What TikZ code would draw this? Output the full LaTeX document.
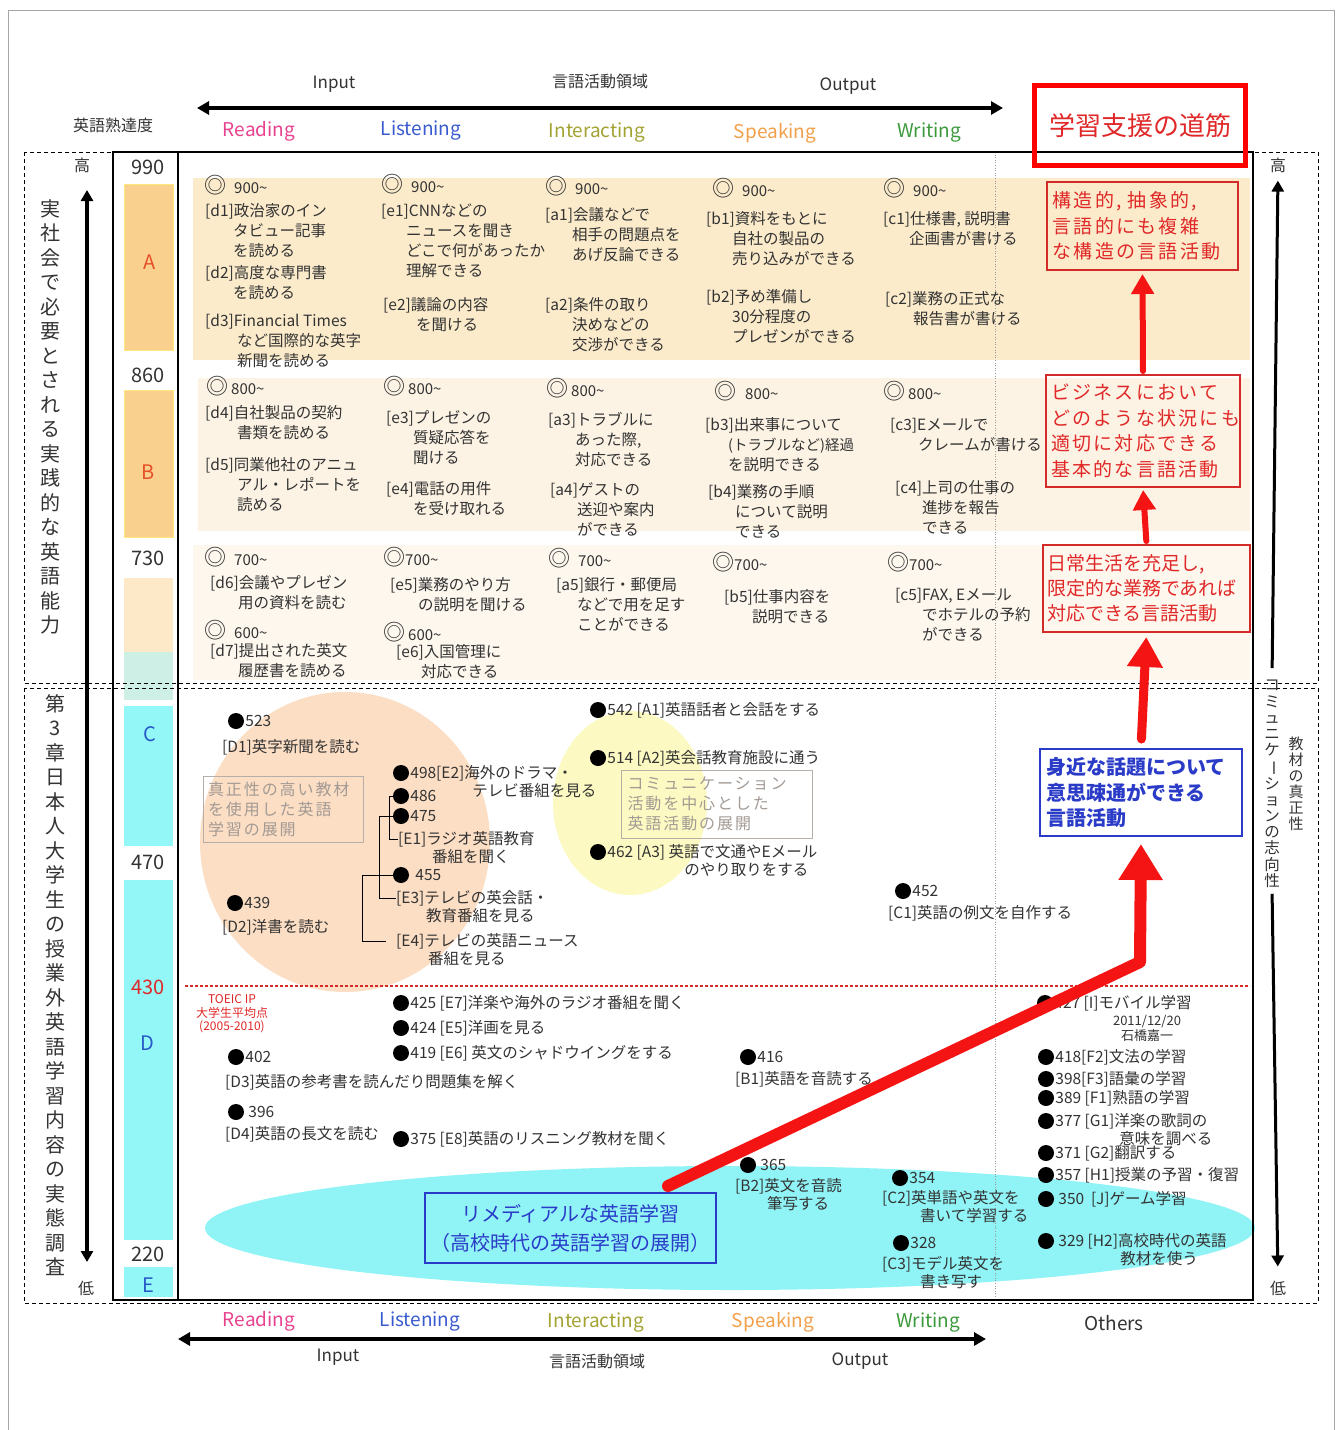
\documentclass[tikz,border=0pt]{standalone}
\usepackage{fontspec}
\setmainfont{Noto Sans CJK JP}
\newfontfamily\lsfont[LetterSpace=12]{Noto Sans CJK JP}
\usetikzlibrary{arrows.meta}
\newcommand\mytilde{\textasciitilde}
\newcommand\myind[1]{\hspace*{#1pt}}
\newcommand\dcirc{{\fontsize{22}{20}\selectfont ◎}}
\definecolor{cRead}{HTML}{E8428E}
\definecolor{cList}{HTML}{3A5BD0}
\definecolor{cInt}{HTML}{A3A332}
\definecolor{cSpk}{HTML}{F2A04A}
\definecolor{cWri}{HTML}{3C9A3C}
\definecolor{bandA}{HTML}{FBEBCB}
\definecolor{bandB}{HTML}{FCF3E4}
\definecolor{bandC}{HTML}{FDF7EE}
\definecolor{barA}{HTML}{F9D08E}
\definecolor{barL}{HTML}{FDE8C8}
\definecolor{barT}{HTML}{CDEFE6}
\definecolor{cyanbar}{HTML}{93F7F8}
\definecolor{peach}{HTML}{FCDEC4}
\definecolor{lyellow}{HTML}{FCFAC2}
\definecolor{cyanell}{HTML}{90F3F5}
\definecolor{rboxred}{HTML}{D42A2A}
\definecolor{rtext}{HTML}{E02828}
\definecolor{bigred}{HTML}{F51414}
\definecolor{bblue}{HTML}{2A3BC8}
\definecolor{grayt}{HTML}{A39A94}
\definecolor{txtc}{HTML}{333333}
\tikzset{
  txt/.style={anchor=north west, inner sep=0pt, align=left, font=\fontsize{15.5}{20}\selectfont, text=txtc},
  lvl/.style={anchor=west, inner sep=0pt, font=\fontsize{15}{18}\selectfont, text=txtc},
  dotn/.style={circle, fill=black, minimum size=16pt, inner sep=0pt},
  lab/.style={anchor=west, inner sep=0pt, font=\fontsize{15.5}{19}\selectfont, text=txtc},
  labm/.style={anchor=north west, inner sep=0pt, align=left, font=\fontsize{15.5}{18}\selectfont, text=txtc},
  skill/.style={inner sep=0pt, font=\fontsize{19}{22}\selectfont},
  axlab/.style={inner sep=0pt, font=\fontsize{17}{20}\selectfont, text=txtc},
  score/.style={inner sep=0pt, font=\fontsize{20}{22}\selectfont, text=txtc},
  vtext/.style={anchor=north, inner sep=0pt, align=center, font=\fontsize{20}{24.5}\selectfont, text=txtc},
  redbox/.style={draw=rboxred, line width=2pt, inner sep=0pt, align=left, text=rtext, font=\lsfont\fontsize{19}{25.5}\selectfont},
  bluebox/.style={draw=bblue, line width=2pt, inner sep=0pt, text=bblue, font=\bfseries\fontsize{20}{25.5}\selectfont},
  graybox/.style={draw=grayt!80, line width=0.8pt, inner sep=0pt, align=left, text=grayt, font=\lsfont\fontsize{16}{20}\selectfont},
  redup/.style={draw=bigred, line width=#1, line cap=round},
  dashbox/.style={draw=black, line width=0.9pt, dash pattern=on 4pt off 3pt},
  frame/.style={draw=black, line width=2pt},
  axarrow/.style={draw=black, line width=4pt, {Triangle[length=12pt,width=13pt]}-{Triangle[length=12pt,width=13pt]}}
}
\begin{document}
\begin{tikzpicture}[x=1pt,y=-1pt]
\useasboundingbox (0,0) rectangle (1338,1430);
\fill[white] (0,0) rectangle (1338,1430);
\draw[gray!70, line width=1pt] (8,10) rectangle (1334,1432);

% ---------- background bands ----------
\fill[bandA] (193,178) rectangle (1250,360);
\fill[bandB] (198,378) rectangle (1250,531);
\fill[bandC] (193,545) rectangle (1250,680);

% ---------- ellipses ----------
\fill[peach] (345,842) ellipse [x radius=145, y radius=150];
\fill[lyellow] (630,803) ellipse [x radius=77, y radius=92];
\fill[cyanell] (730,1228) ellipse [x radius=525, y radius=62];

% ---------- score bars ----------
\fill[barA, draw=yellow!70!orange!50, line width=0.8pt] (124,184) rectangle (173,350);
\fill[barA, draw=yellow!70!orange!50, line width=0.8pt] (124,390) rectangle (173,537);
\fill[barL] (124,578) rectangle (173,652);
\fill[barT] (124,652) rectangle (173,700);
\fill[cyanbar] (124,706) rectangle (173,846);
\fill[cyanbar] (124,880) rectangle (173,1240);
\fill[cyanbar] (124,1267) rectangle (173,1297);

% ---------- dashed boxes and frame ----------
\draw[dashbox] (24,152) rectangle (1318,683);
\draw[dashbox] (24,688) rectangle (1318,1303);
\draw[gray!80, line width=0.6pt, dotted] (995,152) -- (995,1300);
\draw[frame] (113,152) rectangle (1253,1300);
\draw[frame] (178,152) -- (178,1300);
\draw[rboxred, line width=1.2pt, dash pattern=on 3pt off 2pt] (185,986) -- (1250,986);

% ---------- score column ----------
\node[score] (s990) at (148,167) {990};
\node[score] (s860) at (148,375) {860};
\node[score] (s730) at (148,558) {730};
\node[score] (s470) at (148,862) {470};
\node[score, text=rtext] (s430) at (148,987) {430};
\node[score] (s220) at (148,1254) {220};
\node[score, text={rgb,255:red,230;green,80;blue,40}] (gA) at (150,262) {A};
\node[score, text={rgb,255:red,230;green,80;blue,40}] (gB) at (148,472) {B};
\node[score, text={rgb,255:red,40;green,90;blue,200}] (gC) at (150,734) {C};
\node[score, text={rgb,255:red,40;green,90;blue,200}] (gD) at (147,1043) {D};
\node[score, text={rgb,255:red,40;green,90;blue,200}] (gE) at (148,1285) {E};

% ---------- left side ----------
\node[axlab, font=\fontsize{16}{18}\selectfont] (prof) at (113,125) {英語熟達度};
\node[axlab, font=\fontsize{16}{18}\selectfont] (lhi) at (82,165) {高};
\node[axlab, font=\fontsize{16}{18}\selectfont] (llo) at (86,1288) {低};
\coordinate (la1) at (87,190);
\coordinate (la2) at (87,1262);
\draw[draw=black, line width=3.5pt, {Triangle[length=11pt,width=12pt]}-{Triangle[length=11pt,width=12pt]}] (la1) -- (la2);
\node[vtext] (vleft1) at (50,199) {実\\社\\会\\で\\必\\要\\と\\さ\\れ\\る\\実\\践\\的\\な\\英\\語\\能\\力};
\node[vtext] (vleft2) at (55,694) {第\\3\\章\\日\\本\\人\\大\\学\\生\\の\\授\\業\\外\\英\\語\\学\\習\\内\\容\\の\\実\\態\\調\\査};

% ---------- right side ----------
\node[axlab, font=\fontsize{16}{18}\selectfont] (rhi) at (1278,165) {高};
\node[axlab, font=\fontsize{16}{18}\selectfont] (rlo) at (1278,1288) {低};
\node[vtext, font=\fontsize{15.5}{16.2}\selectfont] (vr1) at (1272,680) {コ\\ミ\\ュ\\ニ\\ケ\\\rotatebox[origin=c]{-90}{ー}\\シ\\ョ\\ン\\の\\志\\向\\性};
\node[vtext, font=\fontsize{15}{16}\selectfont] (vr2) at (1296,737) {教\\材\\の\\真\\正\\性};
\draw[draw=black, line width=3pt, -{Triangle[length=11pt,width=12pt]}, shorten <=12pt, shorten >=8pt] (vr1.north) -- (rhi.south);
\draw[draw=black, line width=3pt, -{Triangle[length=11pt,width=12pt]}, shorten <=6pt, shorten >=14pt] (vr1.south) -- (rlo.north);

% ---------- top axis ----------
\node[axlab] (inT) at (334,84) {Input};
\node[axlab, font=\fontsize{16}{18}\selectfont] (domT) at (600,81) {言語活動領域};
\node[axlab] (outT) at (848,86) {Output};
\coordinate (ta1) at (197,108);
\coordinate (ta2) at (1003,108);
\draw[axarrow] (ta1) -- (ta2);
\node[skill, text=cRead] (rdT) at (259,131) {Reading};
\node[skill, text=cList] (lsT) at (421,131) {Listening};
\node[skill, text=cInt] (itT) at (597,133) {Interacting};
\node[skill, text=cSpk] (spT) at (775,133) {Speaking};
\node[skill, text=cWri] (wrT) at (929,133) {Writing};
\node[draw=red, line width=5pt, minimum width=211pt, minimum height=80pt, inner sep=0pt, text=rtext, font=\fontsize{26}{28}\selectfont] (path) at (1140,125.5) {学習支援の道筋};

% ---------- bottom axis ----------
\node[skill, text=cRead] (rdB) at (259,1321) {Reading};
\node[skill, text=cList] (lsB) at (420,1321) {Listening};
\node[skill, text=cInt] (itB) at (596,1322) {Interacting};
\node[skill, text=cSpk] (spB) at (773,1322) {Speaking};
\node[skill, text=cWri] (wrB) at (928,1322) {Writing};
\node[skill, text=txtc] (otB) at (1114,1323) {Others};
\coordinate (ba1) at (178,1339);
\coordinate (ba2) at (986,1339);
\draw[axarrow] (ba1) -- (ba2);
\node[axlab] (inB) at (338,1357) {Input};
\node[axlab, font=\fontsize{16}{18}\selectfont] (domB) at (597,1361) {言語活動領域};
\node[axlab] (outB) at (860,1361) {Output};

% ---------- band 1 (900~) ----------
\node[lvl] (r900) at (204,185) {\dcirc\hspace{8pt}900\mytilde};
\node[lvl] (l900) at (381,184) {\dcirc\hspace{8pt}900\mytilde};
\node[lvl] (i900) at (545,186) {\dcirc\hspace{8pt}900\mytilde};
\node[lvl] (s900) at (712,188) {\dcirc\hspace{8pt}900\mytilde};
\node[lvl] (w900) at (883,188) {\dcirc\hspace{8pt}900\mytilde};
\node[txt] (d1) at (205,203) {[d1]政治家のイン\\\myind{28}タビュー記事\\\myind{28}を読める};
\node[txt] (d2) at (205,265) {[d2]高度な専門書\\\myind{28}を読める};
\node[txt] (d3) at (205,314) {[d3]Financial Times\\\myind{32}など国際的な英字\\\myind{32}新聞を読める};
\node[txt] (e1) at (381,204) {[e1]CNNなどの\\\myind{25}ニュースを聞き\\\myind{25}どこで何があったか\\\myind{25}理解できる};
\node[txt] (e2) at (383,297) {[e2]議論の内容\\\myind{33}を聞ける};
\node[txt] (a1) at (545,207) {[a1]会議などで\\\myind{27}相手の問題点を\\\myind{27}あげ反論できる};
\node[txt] (a2) at (545,297) {[a2]条件の取り\\\myind{27}決めなどの\\\myind{27}交渉ができる};
\node[txt] (b1) at (706,211) {[b1]資料をもとに\\\myind{26}自社の製品の\\\myind{26}売り込みができる};
\node[txt] (b2) at (706,289) {[b2]予め準備し\\\myind{26}30分程度の\\\myind{26}プレゼンができる};
\node[txt] (c1) at (883,211) {[c1]仕様書, 説明書\\\myind{26}企画書が書ける};
\node[txt] (c2) at (885,291) {[c2]業務の正式な\\\myind{28}報告書が書ける};

% ---------- band 2 (800~) ----------
\node[lvl] (r800) at (206,386) {\dcirc\hspace{3pt}800\mytilde};
\node[lvl] (l800) at (383,386) {\dcirc\hspace{3pt}800\mytilde};
\node[lvl] (i800) at (546,388) {\dcirc\hspace{3pt}800\mytilde};
\node[lvl] (s800) at (714,391) {\dcirc\hspace{9pt}800\mytilde};
\node[lvl] (w800) at (883,391) {\dcirc\hspace{3pt}800\mytilde};
\node[txt] (d4) at (205,405) {[d4]自社製品の契約\\\myind{32}書類を読める};
\node[txt] (d5) at (205,457) {[d5]同業他社のアニュ\\\myind{32}アル・レポートを\\\myind{32}読める};
\node[txt] (e3) at (386,410) {[e3]プレゼンの\\\myind{27}質疑応答を\\\myind{27}聞ける};
\node[txt] (e4) at (386,481) {[e4]電話の用件\\\myind{27}を受け取れる};
\node[txt] (a3) at (548,412) {[a3]トラブルに\\\myind{27}あった際,\\\myind{27}対応できる};
\node[txt] (a4) at (550,482) {[a4]ゲストの\\\myind{27}送迎や案内\\\myind{27}ができる};
\node[txt] (b3) at (705,417) {[b3]出来事について\\\myind{23}{\fontsize{14.5}{19}\selectfont (トラブルなど)経過}\\\myind{23}を説明できる};
\node[txt] (b4) at (708,484) {[b4]業務の手順\\\myind{27}について説明\\\myind{27}できる};
\node[txt] (c3) at (890,418) {[c3]Eメールで\\\myind{28}クレームが書ける};
\node[txt] (c4) at (895,480) {[c4]上司の仕事の\\\myind{27}進捗を報告\\\myind{27}できる};

% ---------- band 3 (700~ / 600~) ----------
\node[lvl] (r700) at (204,557) {\dcirc\hspace{8pt}700\mytilde};
\node[lvl] (l700) at (383,557) {\dcirc 700\mytilde};
\node[lvl] (i700) at (548,558) {\dcirc\hspace{8pt}700\mytilde};
\node[lvl] (s700) at (712,562) {\dcirc 700\mytilde};
\node[lvl] (w700) at (887,562) {\dcirc 700\mytilde};
\node[txt] (d6) at (210,575) {[d6]会議やプレゼン\\\myind{28}用の資料を読む};
\node[lvl] (r600) at (204,630) {\dcirc\hspace{8pt}600\mytilde};
\node[txt] (d7) at (210,643) {[d7]提出された英文\\\myind{28}履歴書を読める};
\node[txt] (e5) at (390,577) {[e5]業務のやり方\\\myind{28}の説明を聞ける};
\node[lvl] (l600) at (383,632) {\dcirc\hspace{3pt}600\mytilde};
\node[txt] (e6) at (396,644) {[e6]入国管理に\\\myind{25}対応できる};
\node[txt] (a5) at (556,577) {[a5]銀行・郵便局\\\myind{21}などで用を足す\\\myind{21}ことができる};
\node[txt] (b5) at (724,589) {[b5]仕事内容を\\\myind{28}説明できる};
\node[txt] (c5) at (895,588) {[c5]FAX, Eメール\\\myind{27}でホテルの予約\\\myind{27}ができる};

% ---------- gray boxes ----------
\node[graybox, minimum width=160pt, minimum height=66pt, text width=150pt] (gb1) at (283,809) {真正性の高い教材\\を使用した英語\\学習の展開};
\node[graybox, minimum width=191pt, minimum height=68pt, text width=178pt] (gb2) at (716.5,804) {コミュニケーション\\活動を中心とした\\英語活動の展開};

% ---------- lower part: dots ----------
\node[dotn] (p523) at (236,721) {};
\node[lab] (l523) at ([xshift=1pt]p523.east) {523};
\node[txt] (D1) at (222,739) {[D1]英字新聞を読む};
\node[dotn] (p498) at (401,773) {};
\node[labm] (l498) at ([shift={(1pt,8pt)}]p498.east) {498[E2]海外のドラマ・\\\myind{62}テレビ番組を見る};
\node[dotn] (p486) at (401,796) {};
\node[lab] (l486) at ([xshift=1pt]p486.east) {486};
\node[dotn] (p475) at (401,816) {};
\node[lab] (l475) at ([xshift=1pt]p475.east) {475};
\node[labm] (E1) at (398,831) {[E1]ラジオ英語教育\\\myind{34}番組を聞く};
\node[dotn] (p455) at (401,875) {};
\node[lab] (l455) at ([xshift=6pt]p455.east) {455};
\node[labm] (E3) at (396,890) {[E3]テレビの英会話・\\\myind{30}教育番組を見る};
\node[labm] (E4) at (396,933) {[E4]テレビの英語ニュース\\\myind{32}番組を見る};
\draw[black, line width=1pt] (p486.west) -| ([shift={(-9pt,-8pt)}]E1.north west) -- ([yshift=-8pt]E1.north west);
\draw[black, line width=1pt] (p475.west) -| ([shift={(-17pt,-8pt)}]E3.north west) -- ([yshift=-8pt]E3.north west);
\draw[black, line width=1pt] (p455.west) -| ([shift={(-34pt,-8pt)}]E4.north west) -- ([shift={(-10pt,-8pt)}]E4.north west);
\node[dotn] (p439) at (235,903) {};
\node[lab] (l439) at ([xshift=1pt]p439.east) {439};
\node[txt] (D2) at (222,919) {[D2]洋書を読む};

\node[dotn] (p542) at (598,710) {};
\node[lab] (l542) at ([xshift=1pt]p542.east) {542 [A1]英語話者と会話をする};
\node[dotn] (p514) at (598,758) {};
\node[lab] (l514) at ([xshift=1pt]p514.east) {514 [A2]英会話教育施設に通う};
\node[dotn] (p462) at (598,852) {};
\node[labm] (l462) at ([shift={(1pt,8pt)}]p462.east) {462 [A3] 英語で文通やEメール\\\myind{77}のやり取りをする};
\node[dotn] (p452) at (903,891) {};
\node[lab] (l452) at ([xshift=1pt]p452.east) {452};
\node[txt] (C1) at (888,905) {[C1]英語の例文を自作する};

\node[inner sep=0pt, align=center, text=rtext, font=\fontsize{12}{13.5}\selectfont] (toeic) at (232,1014) {TOEIC IP\\大学生平均点\\(2005-2010)};
\node[dotn] (p425) at (401,1003) {};
\node[lab] (l425) at ([xshift=1pt]p425.east) {425 [E7]洋楽や海外のラジオ番組を聞く};
\node[dotn] (p424) at (401,1028) {};
\node[lab] (l424) at ([xshift=1pt]p424.east) {424 [E5]洋画を見る};
\node[dotn] (p419) at (401,1053) {};
\node[lab] (l419) at ([xshift=1pt]p419.east) {419 [E6] 英文のシャドウイングをする};
\node[dotn] (p402) at (236,1057) {};
\node[lab] (l402) at ([xshift=1pt]p402.east) {402};
\node[txt] (D3) at (225,1074) {[D3]英語の参考書を読んだり問題集を解く};
\node[dotn] (p396) at (236,1112) {};
\node[lab] (l396) at ([xshift=4pt]p396.east) {396};
\node[txt] (D4) at (225,1126) {[D4]英語の長文を読む};
\node[dotn] (p375) at (401,1139) {};
\node[lab] (l375) at ([xshift=1pt]p375.east) {375 [E8]英語のリスニング教材を聞く};
\node[dotn] (p416) at (748,1057) {};
\node[lab] (l416) at ([xshift=1pt]p416.east) {416};
\node[txt] (B1) at (735,1071) {[B1]英語を音読する};
\node[dotn] (p365) at (748,1165) {};
\node[lab] (l365) at ([xshift=4pt]p365.east) {365};
\node[labm] (B2) at (735,1178) {[B2]英文を音読\\\myind{32}筆写する};
\node[dotn] (p354) at (900,1178) {};
\node[lab] (l354) at ([xshift=1pt]p354.east) {354};
\node[labm] (C2) at (882,1190) {[C2]英単語や英文を\\\myind{38}書いて学習する};
\node[dotn] (p328) at (901,1243) {};
\node[lab] (l328) at ([xshift=1pt]p328.east) {328};
\node[labm] (C3) at (882,1256) {[C3]モデル英文を\\\myind{38}書き写す};

\node[dotn] (p427) at (1045,1003) {};
\node[lab] (l427) at ([xshift=1pt]p427.east) {427 [I]モバイル学習};
\node[inner sep=0pt, align=center, text=txtc, font=\fontsize{13}{15}\selectfont] (date) at (1147,1028) {2011/12/20\\石橋嘉一};
\node[dotn] (p418) at (1046,1057) {};
\node[lab] (l418) at ([xshift=1pt]p418.east) {418[F2]文法の学習};
\node[dotn] (p398) at (1046,1079) {};
\node[lab] (l398) at ([xshift=1pt]p398.east) {398[F3]語彙の学習};
\node[dotn] (p389) at (1046,1098) {};
\node[lab] (l389) at ([xshift=1pt]p389.east) {389 [F1]熟語の学習};
\node[dotn] (p377) at (1046,1121) {};
\node[labm] (l377) at ([shift={(1pt,8pt)}]p377.east) {377 [G1]洋楽の歌詞の\\\myind{64}意味を調べる};
\node[dotn] (p371) at (1046,1153) {};
\node[lab] (l371) at ([xshift=1pt]p371.east) {371 [G2]翻訳する};
\node[dotn] (p357) at (1046,1175) {};
\node[lab] (l357) at ([xshift=1pt]p357.east) {357 [H1]授業の予習・復習};
\node[dotn] (p350) at (1046,1199) {};
\node[lab] (l350) at ([xshift=4pt]p350.east) {350\ \ [J]ゲーム学習};
\node[dotn] (p329) at (1046,1241) {};
\node[labm] (l329) at ([shift={(4pt,8pt)}]p329.east) {329 [H2]高校時代の英語\\\myind{62}教材を使う};

% ---------- right boxes ----------
\node[redbox, minimum width=191pt, minimum height=88pt, text width=180pt] (rb1) at (1142.5,226) {構造的, 抽象的,\\言語的にも複雑\\な構造の言語活動};
\node[redbox, minimum width=194pt, minimum height=112pt, text width=184pt] (rb2) at (1143,431) {ビジネスにおいて\\どのような状況にも\\適切に対応できる\\基本的な言語活動};
\node[redbox, font=\fontsize{19}{25}\selectfont, minimum width=207pt, minimum height=87pt, text width=199pt] (rb3) at (1146.5,588.5) {日常生活を充足し,\\限定的な業務であれば\\対応できる言語活動};
\node[bluebox, minimum width=202pt, minimum height=87pt, text width=190pt, align=left] (bb) at (1141,792.5) {身近な話題について\\意思疎通ができる\\言語活動};
\node[bluebox, minimum width=291pt, minimum height=70pt, align=center, font=\fontsize{20}{29}\selectfont] (rem) at (570.5,1228) {リメディアルな英語学習\\（高校時代の英語学習の展開）};

% ---------- red arrows ----------
\draw[redup=6pt, -{Triangle[length=20pt,width=22pt]}, shorten <=3pt, shorten >=3pt] (rb2.north) -- (rb1.south);
\draw[redup=6pt, -{Triangle[length=20pt,width=22pt]}, shorten <=3pt, shorten >=2pt] (rb3.north) -- (rb2.south);
\draw[redup=9pt, -{Triangle[length=30pt,width=34pt]}, shorten <=9pt, shorten >=4pt] (bb.north) -- (rb3.south);
\coordinate (bigs) at (668,1186);
\coordinate (bigc) at (1140,962);
\draw[redup=12pt, line join=round, -{Triangle[length=36pt,width=42pt]}, shorten >=7pt] (bigs) -- (bigc) -- (bb.south);
\end{tikzpicture}
\end{document}
